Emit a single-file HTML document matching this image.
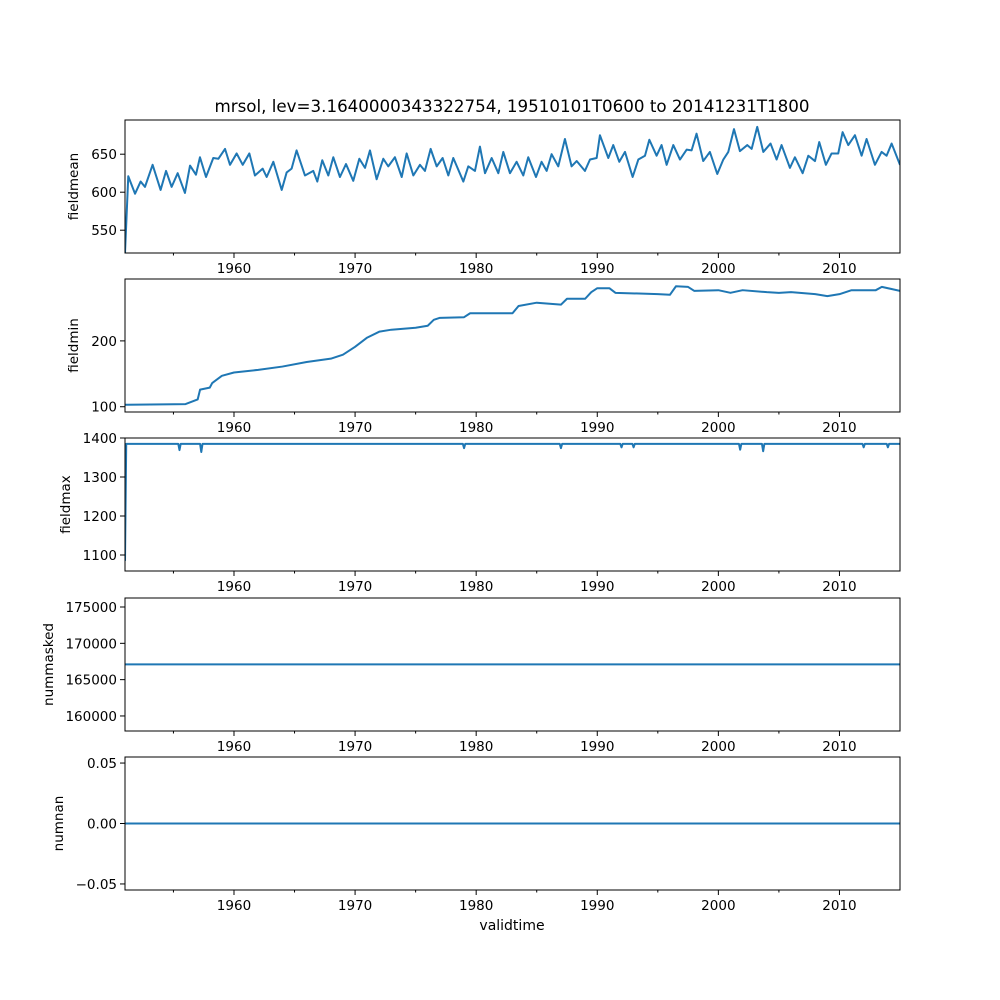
<!DOCTYPE html>
<html><head><meta charset="utf-8"><style>
body{margin:0;background:#fff}
svg{font-family:"DejaVu Sans","Liberation Sans",sans-serif;display:block}
</style></head><body>
<svg id="fig" width="1000" height="1000" viewBox="0 0 1000 1000" xmlns="http://www.w3.org/2000/svg">
<rect width="1000" height="1000" fill="#fff"/>
<text x="512" y="112" font-size="16.7" text-anchor="middle">mrsol, lev=3.1640000343322754, 19510101T0600 to 20141231T1800</text>
<text x="512" y="930" font-size="14" text-anchor="middle">validtime</text>
</svg>
<script>
const xTicks=[1960,1970,1980,1990,2000,2010];
const xMinor=[1955,1965,1975,1985,1995,2005];
const meanYears=[1951.0,1951.27,1951.83,1952.29,1952.65,1953.28,1953.94,1954.39,1954.85,1955.35,1955.95,1956.37,1956.86,1957.19,1957.69,1958.29,1958.71,1959.26,1959.67,1960.22,1960.72,1961.27,1961.73,1962.37,1962.70,1963.25,1963.94,1964.35,1964.76,1965.17,1965.86,1966.55,1966.88,1967.29,1967.79,1968.20,1968.75,1969.25,1969.85,1970.35,1970.82,1971.23,1971.78,1972.33,1972.74,1973.29,1973.85,1974.26,1974.81,1975.36,1975.77,1976.24,1976.74,1977.23,1977.70,1978.11,1978.94,1979.35,1979.90,1980.31,1980.73,1981.28,1981.83,1982.24,1982.79,1983.34,1983.89,1984.30,1984.94,1985.40,1985.82,1986.23,1986.78,1987.33,1987.88,1988.30,1988.98,1989.40,1989.95,1990.22,1990.91,1991.32,1991.82,1992.29,1992.92,1993.39,1993.94,1994.30,1994.90,1995.31,1995.73,1996.28,1996.83,1997.38,1997.79,1998.20,1998.75,1999.30,1999.91,2000.41,2000.82,2001.29,2001.78,2002.39,2002.75,2003.21,2003.71,2004.31,2004.81,2005.22,2005.91,2006.32,2006.96,2007.43,2007.98,2008.33,2008.88,2009.35,2009.90,2010.26,2010.73,2011.28,2011.83,2012.24,2012.93,2013.48,2013.89,2014.31,2015.0];
const meanValues=[520,621,598,614,607,636,603,628,607,625,599,635,623,646,620,645,644,657,636,651,636,651,622,631,620,640,603,626,631,655,622,628,614,642,622,646,620,637,615,644,632,655,617,644,634,646,620,651,622,636,628,657,634,645,622,645,614,634,628,660,625,645,625,653,625,640,622,646,620,640,628,650,634,670,634,641,628,643,645,675,645,662,640,653,620,643,648,669,648,662,636,662,643,656,655,677,641,653,624,643,653,683,654,662,657,686,653,664,643,662,632,646,625,648,641,666,636,651,651,679,662,675,648,670,636,653,648,664,636];
const minYears=[1951,1956,1957,1957.2,1958,1958.2,1959,1960,1962,1964,1966,1968,1969,1970,1971,1972,1973,1975,1976,1976.5,1977,1979,1979.5,1982,1983,1983.5,1985,1987,1987.5,1989,1989.5,1990,1991,1991.5,1995,1996,1996.5,1997.5,1998,2000,2001,2002,2004,2005,2006,2008,2009,2010,2011,2013,2013.5,2015];
const minValues=[103,104,111,126,129,136,147,152,156,161,168,173,179,191,205,214,217,220,223,232,235,236,242,242,242,253,258,255,264,264,274,280,280,273,271,270,283,282,276,277,273,277,274,273,274,271,268,271,277,277,282,276];
const maxYears=[1951,1951.1,1955.4,1955.5,1955.6,1957.2,1957.3,1957.4,1978.9,1979,1979.1,1986.9,1987,1987.1,1991.9,1992,1992.1,1992.9,1993,1993.1,2001.7,2001.8,2001.9,2003.6,2003.7,2003.8,2011.9,2012,2012.1,2013.9,2014,2014.1,2015];
const maxValues=[1085,1385,1385,1369,1385,1385,1364,1385,1385,1374,1385,1385,1374,1385,1385,1376,1385,1385,1376,1385,1385,1370,1385,1385,1366,1385,1385,1376,1385,1385,1376,1385,1385];
const maskedYears=[1951,2015];
const maskedValues=[167100,167100];
const nanYears=[1951,2015];
const nanValues=[0,0];

const panels=[
 {name:'fieldmean',top:120,bot:253,ymin:520,ymax:695,ticks:[550,600,650],labs:['550','600','650'],xs:meanYears,ys:meanValues,lx:78},
 {name:'fieldmin',top:279,bot:412,ymin:92,ymax:294,ticks:[100,200],labs:['100','200'],xs:minYears,ys:minValues,lx:78},
 {name:'fieldmax',top:438,bot:571,ymin:1059,ymax:1400,ticks:[1100,1200,1300,1400],labs:['1100','1200','1300','1400'],xs:maxYears,ys:maxValues,lx:70},
 {name:'nummasked',top:598,bot:731,ymin:157930,ymax:176240,ticks:[160000,165000,170000,175000],labs:['160000','165000','170000','175000'],xs:maskedYears,ys:maskedValues,lx:53},
 {name:'numnan',top:757,bot:890,ymin:-0.055,ymax:0.055,ticks:[-0.05,0,0.05],labs:['\u22120.05','0.00','0.05'],xs:nanYears,ys:nanValues,lx:63}
];
const L=125,R=900,X0=1951,X1=2015;
const svg=document.getElementById('fig');
const NS='http://www.w3.org/2000/svg';
function xs(v){return L+(v-X0)/(X1-X0)*(R-L);}
function mk(tag,attrs,parent){const e=document.createElementNS(NS,tag);for(const k in attrs)e.setAttribute(k,attrs[k]);(parent||svg).appendChild(e);return e;}
panels.forEach(p=>{
 const g=mk('g',{});
 
 
 const ys=v=>p.bot-(v-p.ymin)/(p.ymax-p.ymin)*(p.bot-p.top);
 const d=p.xs.map((x,i)=>(i?'L':'M')+xs(x).toFixed(2)+','+ys(p.ys[i]).toFixed(2)).join('');
 const cp=mk('clipPath',{id:'c'+p.name},g);
 mk('rect',{x:L,y:p.top,width:R-L,height:p.bot-p.top},cp);
 const line=mk('path',{d:d,fill:'none',stroke:'#1f77b4','stroke-width':2,'stroke-linejoin':'round','clip-path':'url(#c'+p.name+')'},g);
 
 
 const fr=mk('rect',{x:L,y:p.top,width:R-L,height:p.bot-p.top,fill:'none',stroke:'#000','stroke-width':1},g);
 
 
 p.ticks.forEach((t,i)=>{
  const y=ys(t);
  mk('line',{x1:L-5,x2:L,y1:y,y2:y,stroke:'#000'},g);
  const tx=mk('text',{x:L-8,y:y+5,'font-size':13.5,'text-anchor':'end'},g);
  tx.textContent=p.labs[i];
  
  
 });
 xTicks.forEach(t=>{
  const x=xs(t);
  mk('line',{x1:x,x2:x,y1:p.bot,y2:p.bot+5,stroke:'#000'},g);
  const tx=mk('text',{x:x,y:p.bot+20,'font-size':13.5,'text-anchor':'middle'},g);
  tx.textContent=t;
  
  
 });
 xMinor.forEach(t=>{const x=xs(t);mk('line',{x1:x,x2:x,y1:p.bot,y2:p.bot+2.5,stroke:'#000'},g);});
 const cy=(p.top+p.bot)/2;
 const yl=mk('text',{x:p.lx,y:cy,'font-size':13.5,'text-anchor':'middle',transform:'rotate(-90 '+p.lx+' '+cy+')'},g);
 yl.textContent=p.name;
 
 
});
</script>
</body></html>
